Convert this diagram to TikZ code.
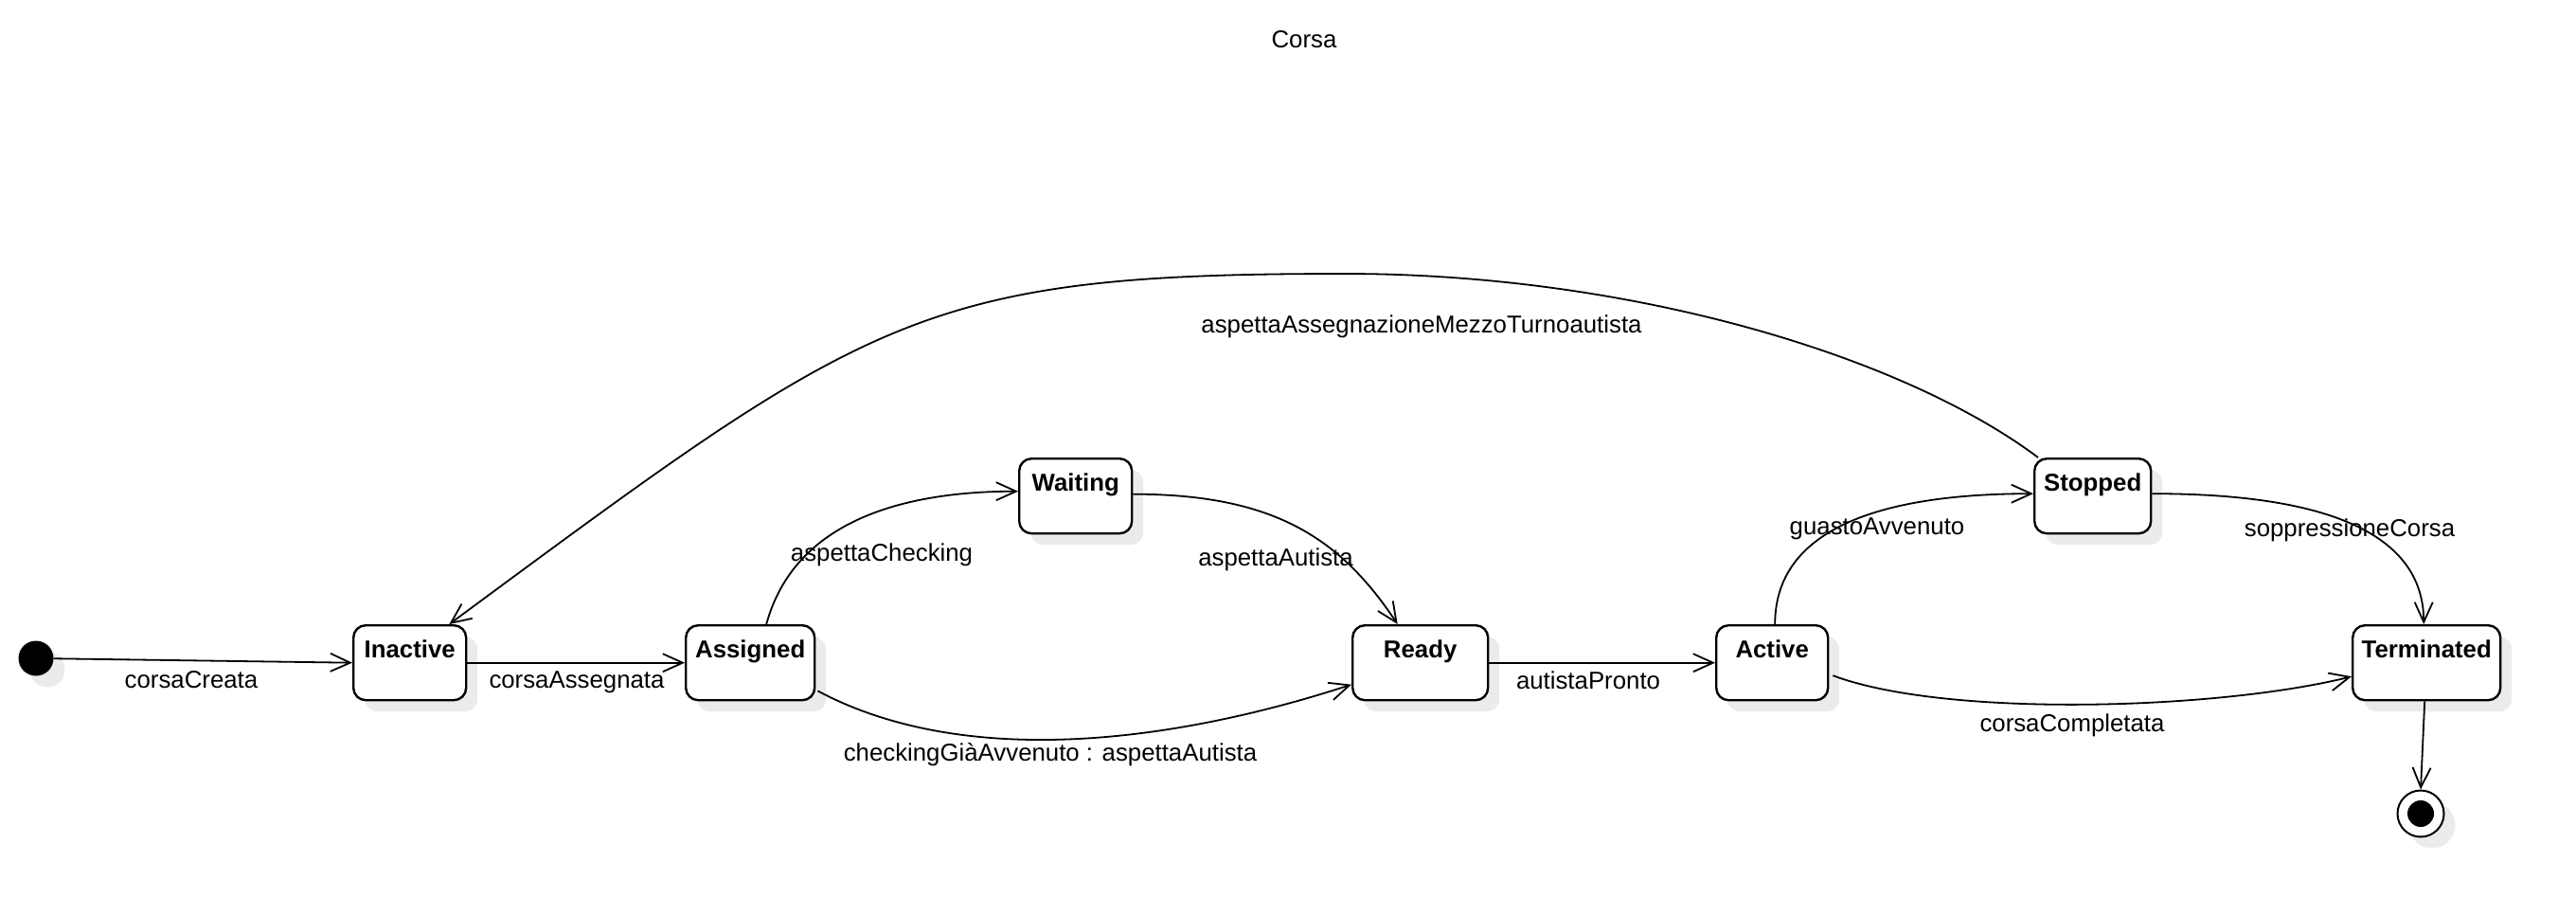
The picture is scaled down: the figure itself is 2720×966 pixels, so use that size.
\documentclass[tikz,border=0pt]{standalone}
\usepackage{fontspec}
\setmainfont{Liberation Sans}
\usetikzlibrary{arrows.meta,shadows,calc}
\begin{document}
\begin{tikzpicture}[x=1pt,y=-1pt,
  font=\fontsize{25.8pt}{31pt}\selectfont,
  shadowed/.style={drop shadow={shadow xshift=12pt,shadow yshift=-12pt,fill=black!8,opacity=1}},
  state/.style={draw, line width=2.4pt, rounded corners=13pt, fill=white, inner sep=0pt,
    text height=34pt, text depth=45pt, font=\fontsize{25.8pt}{31pt}\selectfont\bfseries,
    anchor=north west, shadowed},
  initstate/.style={circle, fill=black, draw=none, minimum size=37pt, inner sep=0pt, shadowed},
  finalstate/.style={circle, draw, line width=2pt, fill=white, minimum size=49pt, inner sep=0pt, shadowed},
  finaldot/.style={circle, fill=black, minimum size=28pt, inner sep=0pt},
  trans/.style={line width=1.8pt, -{Straight Barb[length=21pt,width=19pt]}},
  lbl/.style={anchor=base, inner sep=0pt}
]
\useasboundingbox (0,0) rectangle (2720,966);

% title
\node[lbl] (title) at (1377,51) {Corsa};

% states
\node[initstate] (init) at (38,695) {};
\node[state, minimum width=119pt] (inactive) at (372,659) {Inactive};
\node[state, minimum width=136pt] (assigned) at (723,659) {Assigned};
\node[state, minimum width=119pt] (waiting) at (1075,483) {Waiting};
\node[state, minimum width=143pt] (ready) at (1427,659) {Ready};
\node[state, minimum width=118pt] (active) at (1811,659) {Active};
\node[state, minimum width=123pt] (stopped) at (2147,483) {Stopped};
\node[state, minimum width=156pt] (terminated) at (2483,659) {Terminated};
\node[finalstate] (final) at (2556,859) {};
\node[finaldot] (finalin) at (final.center) {};

\coordinate (arctop) at (1420,289);

% transitions
\draw[trans] (init) -- (inactive.west);
\draw[trans] (inactive.east) -- (assigned.west);
\draw[trans] ($(assigned.north)+(17,0)$) .. controls +(30,-110) and +(-120,0) .. ($(waiting.west)+(0,-5)$);
\draw[trans] ($(waiting.east)+(0,-2)$) .. controls +(150,0) and +(-60,-90) .. ($(ready.north)+(-24,0)$);
\draw[trans] ($(assigned.south east)+(2,-11)$) .. controls +(150,80) and +(-200,65) .. ($(ready.west)+(0,23)$);
\draw[trans] (ready.east) -- (active.west);
\draw[trans] ($(active.north)+(3,0)$) .. controls +(0,-110) and +(-140,0) .. ($(stopped.west)+(0,-2.5)$);
\draw[trans] ($(stopped.east)+(0,-2.5)$) .. controls +(150,0) and +(0,-110) .. ($(terminated.north)+(-3,0)$);
\draw[trans] ($(active.east)+(4,13.5)$) .. controls +(120,45) and +(-140,35) .. ($(terminated.west)+(0,14.5)$);
\draw[trans] ($(terminated.south)+(-2,0)$) -- (final.north);
\draw[trans] ($(stopped.north west)+(5,0)$) .. controls +(-144,-108) and +(300,0) .. (arctop)
  .. controls +(-450,0) and +(443,-327) .. ($(inactive.north east)+(-19,0)$);

% labels
\node[lbl] (l1) at (202,726) {corsaCreata};
\node[lbl] (l2) at (609,726) {corsaAssegnata};
\node[lbl] (l3) at (931,592) {aspettaChecking};
\node[lbl] (l4) at (1347,597) {aspettaAutista};
\node[lbl] (l5) at (1109,803) {checkingGiàAvvenuto : aspettaAutista};
\node[lbl] (l6) at (1677,727) {autistaPronto};
\node[lbl] (l7) at (1982,564) {guastoAvvenuto};
\node[lbl] (l8) at (2481,566) {soppressioneCorsa};
\node[lbl] (l9) at (2188,772) {corsaCompletata};
\node[lbl] (l10) at (1501,351) {aspettaAssegnazioneMezzoTurnoautista};
\end{tikzpicture}
\end{document}
